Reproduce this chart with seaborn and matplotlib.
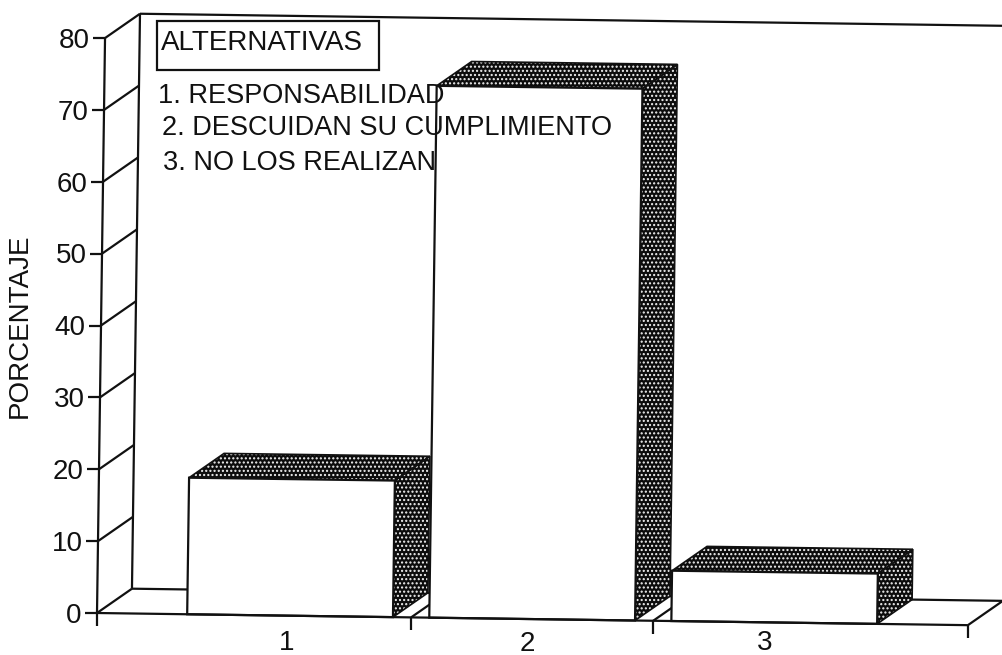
import matplotlib
matplotlib.use("Agg")
import matplotlib.pyplot as plt
from matplotlib.patches import Polygon, Rectangle
from matplotlib.transforms import Affine2D
import seaborn as sns

#####################################################################
# Data
#####################################################################
CATEGORIAS = ["1", "2", "3"]
PORCENTAJES = [19, 74, 7]
Y_TICKS = [0, 10, 20, 30, 40, 50, 60, 70, 80]
TITULO_LEYENDA = "ALTERNATIVAS"
ALTERNATIVAS = ["1. RESPONSABILIDAD", "2. DESCUIDAN SU CUMPLIMIENTO", "3. NO LOS REALIZAN"]
Y_LABEL = "PORCENTAJE"

#####################################################################
# Layout constants
#####################################################################
W, H = 1003, 655
X0, X1 = -0.7975, 2.80      # category axis limits
Y0, Y1 = 0, 80
DX, DY = 0.143, 3.45        # depth of the fake 3D, in data units
INK = "#111111"
LW = 1.6

sns.set_theme(style="white")
plt.rcParams["font.family"] = ["Liberation Sans", "DejaVu Sans"]

fig = plt.figure(figsize=(W / 100, H / 100), dpi=100, facecolor="white")
ax = fig.add_axes([97 / W, 42 / H, 871 / W, 575 / H])

sns.barplot(x=CATEGORIAS, y=PORCENTAJES, color="white", saturation=1, width=0.85,
            edgecolor=INK, linewidth=LW, ax=ax, zorder=2)
ax.set_xlim(X0, X1)
ax.set_ylim(Y0, Y1)
sns.despine(ax=ax, left=True, bottom=True)
ax.patch.set_alpha(0)

# the scanned page sits slightly rotated
tilt = Affine2D().rotate_deg_around(97, 42, -0.8)
tilted = ax.transData + tilt


def line(xs, ys, z=1):
    ax.plot(xs, ys, color=INK, lw=LW, transform=tilted, clip_on=False,
            zorder=z, solid_capstyle="butt")


#####################################################################
# Frame: walls, floor and depth lines
#####################################################################
line([X0, X0], [Y0, Y1], 3)
line([X0, X1], [Y0, Y0], 3)
line([X0 + DX, X0 + DX], [DY, Y1 + DY])
line([X0 + DX, X1 + DX], [Y1 + DY, Y1 + DY])
line([X0 + DX, X1 + DX], [DY, DY])
for v in Y_TICKS:
    line([X0, X0 + DX], [v, v + DY])
for x in [0.5, 1.5, X1]:
    line([x, x + DX], [0, DY])

#####################################################################
# Stippled top and side faces from the bars that seaborn drew
#####################################################################
for bar in list(ax.patches):
    bar.set_transform(tilted)
    bar.set_clip_on(False)
    xl = bar.get_x()
    xr = xl + bar.get_width()
    h = bar.get_height()
    top = [(xl, h), (xr, h), (xr + DX, h + DY), (xl + DX, h + DY)]
    side = [(xr, 0), (xr + DX, DY), (xr + DX, h + DY), (xr, h)]
    for pts in (top, side):
        ax.add_patch(Polygon(pts, closed=True, facecolor="#0c0c0c", edgecolor="#f2f2f2",
                             hatch="....", linewidth=0, transform=tilted,
                             clip_on=False, zorder=1.5))
        ax.add_patch(Polygon(pts, closed=True, fill=False, edgecolor=INK, linewidth=1.2,
                             transform=tilted, clip_on=False, zorder=1.6))

#####################################################################
# Axis ticks and labels
#####################################################################
ax.set_yticks(Y_TICKS)
ax.set_xticks(range(len(CATEGORIAS)))
ax.set_xticklabels(CATEGORIAS)
ax.set_xticks([X0, 0.5, 1.5, X1], minor=True)
ax.tick_params(axis="y", left=True, length=9, width=LW, color=INK, labelsize=20,
               labelcolor=INK, pad=2)
ax.tick_params(axis="x", which="major", bottom=False, labelsize=20, labelcolor=INK, pad=4)
ax.tick_params(axis="x", which="minor", bottom=True, length=9, width=LW, color=INK)
for tick in ax.yaxis.get_major_ticks() + ax.xaxis.get_minor_ticks():
    tick.tick1line.set_transform(tick.tick1line.get_transform() + tilt)
    tick.label1.set_transform(tick.label1.get_transform() + tilt)
# x labels sit a bit closer together than the bars in the scan, and must stay on the page
for tick, dx, dy in zip(ax.xaxis.get_major_ticks(), [-3, -5, -9], [0, 2, 6]):
    tick.label1.set_transform(tick.label1.get_transform() + tilt + Affine2D().translate(dx, dy))

ax.set_ylabel(Y_LABEL, fontsize=20, color=INK)
ax.yaxis.set_label_coords(-0.0735, 0.499)

#####################################################################
# Hand-made legend
#####################################################################
fig.add_artist(Rectangle((157 / W, 1 - 70 / H), 222 / W, 49 / H, fill=False, edgecolor=INK,
                         linewidth=LW, transform=fig.transFigure))
fig.text(161 / W, 1 - 43 / H, TITULO_LEYENDA, fontsize=20, color=INK, va="center", zorder=5)
for texto, px, py in zip(ALTERNATIVAS, [158, 162, 163], [96, 128, 163]):
    fig.text(px / W, 1 - py / H, texto, fontsize=19.5, color=INK, va="center", zorder=5)

fig.savefig("out.png", dpi=100)
